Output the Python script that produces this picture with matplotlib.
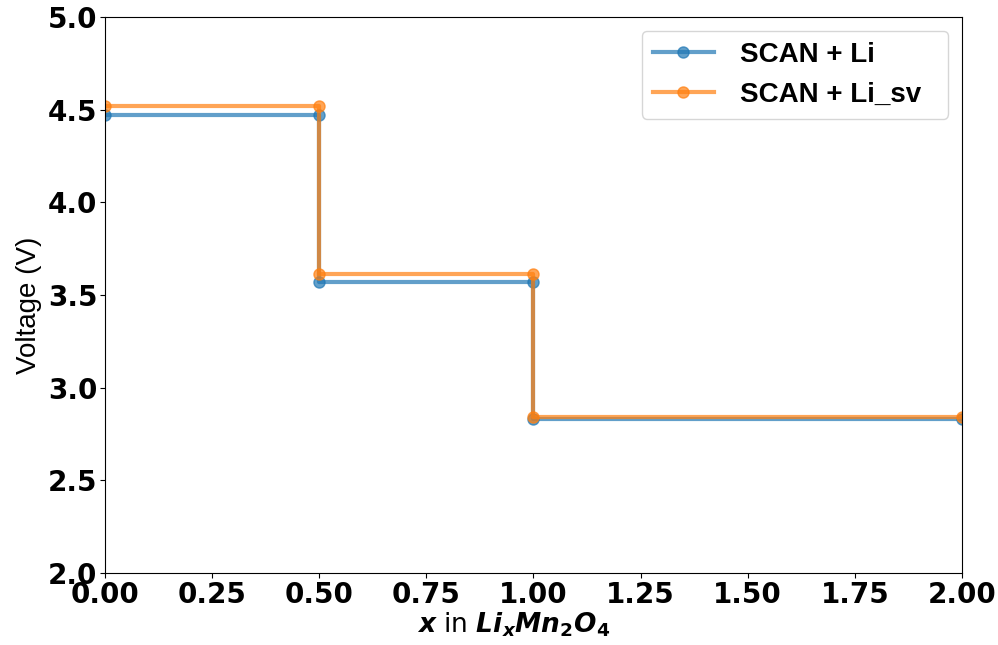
import matplotlib
matplotlib.use("Agg")
import matplotlib.pyplot as plt

# Step profile: concentration breakpoints and voltages of each plateau
x_li = [0.0, 0.5, 0.5, 1.0, 1.0, 2.0]
v_scan_li = [4.47, 4.47, 3.57, 3.57, 2.83, 2.83]
v_scan_li_sv = [4.52, 4.52, 3.615, 3.615, 2.843, 2.843]
series_labels = ["SCAN + Li  ", "SCAN + Li_sv  "]

xticks = [0.00, 0.25, 0.50, 0.75, 1.00, 1.25, 1.50, 1.75, 2.00]
yticks = [2.0, 2.5, 3.0, 3.5, 4.0, 4.5, 5.0]

plt.rcParams["mathtext.fontset"] = "dejavusans"

fig = plt.figure(figsize=(9.98, 6.45), dpi=100)
ax = fig.add_axes([0.1052, 0.1116, 0.8587, 0.862])

ax.plot(x_li, v_scan_li, "-o", color="#1f77b4", lw=3, ms=8, alpha=0.7,
        label=series_labels[0])
ax.plot(x_li, v_scan_li_sv, "-o", color="#ff7f0e", lw=3, ms=8, alpha=0.7,
        label=series_labels[1])

ax.set_xlim(0, 2)
ax.set_ylim(2, 5)
ax.set_xticks(xticks)
ax.set_yticks(yticks)
ax.set_xticklabels([f"{t:.2f}" for t in xticks], fontsize=20, fontweight="bold")
ax.set_yticklabels([f"{t:.1f}" for t in yticks], fontsize=20, fontweight="bold")
ax.tick_params(pad=2)

ax.set_ylabel("Voltage (V)", fontsize=20, family="Liberation Sans", labelpad=4)
ax.yaxis.label.set_y(0.482)
ax.set_xlabel(r"$\bfit{x}$ in $\bfit{Li_x Mn}_\mathbf{2}\bfit{O}_\mathbf{4}$",
              fontsize=19, family="DejaVu Sans", labelpad=1)
ax.xaxis.label.set_x(0.477)

ax.legend(prop={"family": "Liberation Sans", "weight": "bold", "size": 20},
          loc="upper right", handlelength=2.2, handletextpad=0.95)

fig.savefig("out.png", dpi=100)
